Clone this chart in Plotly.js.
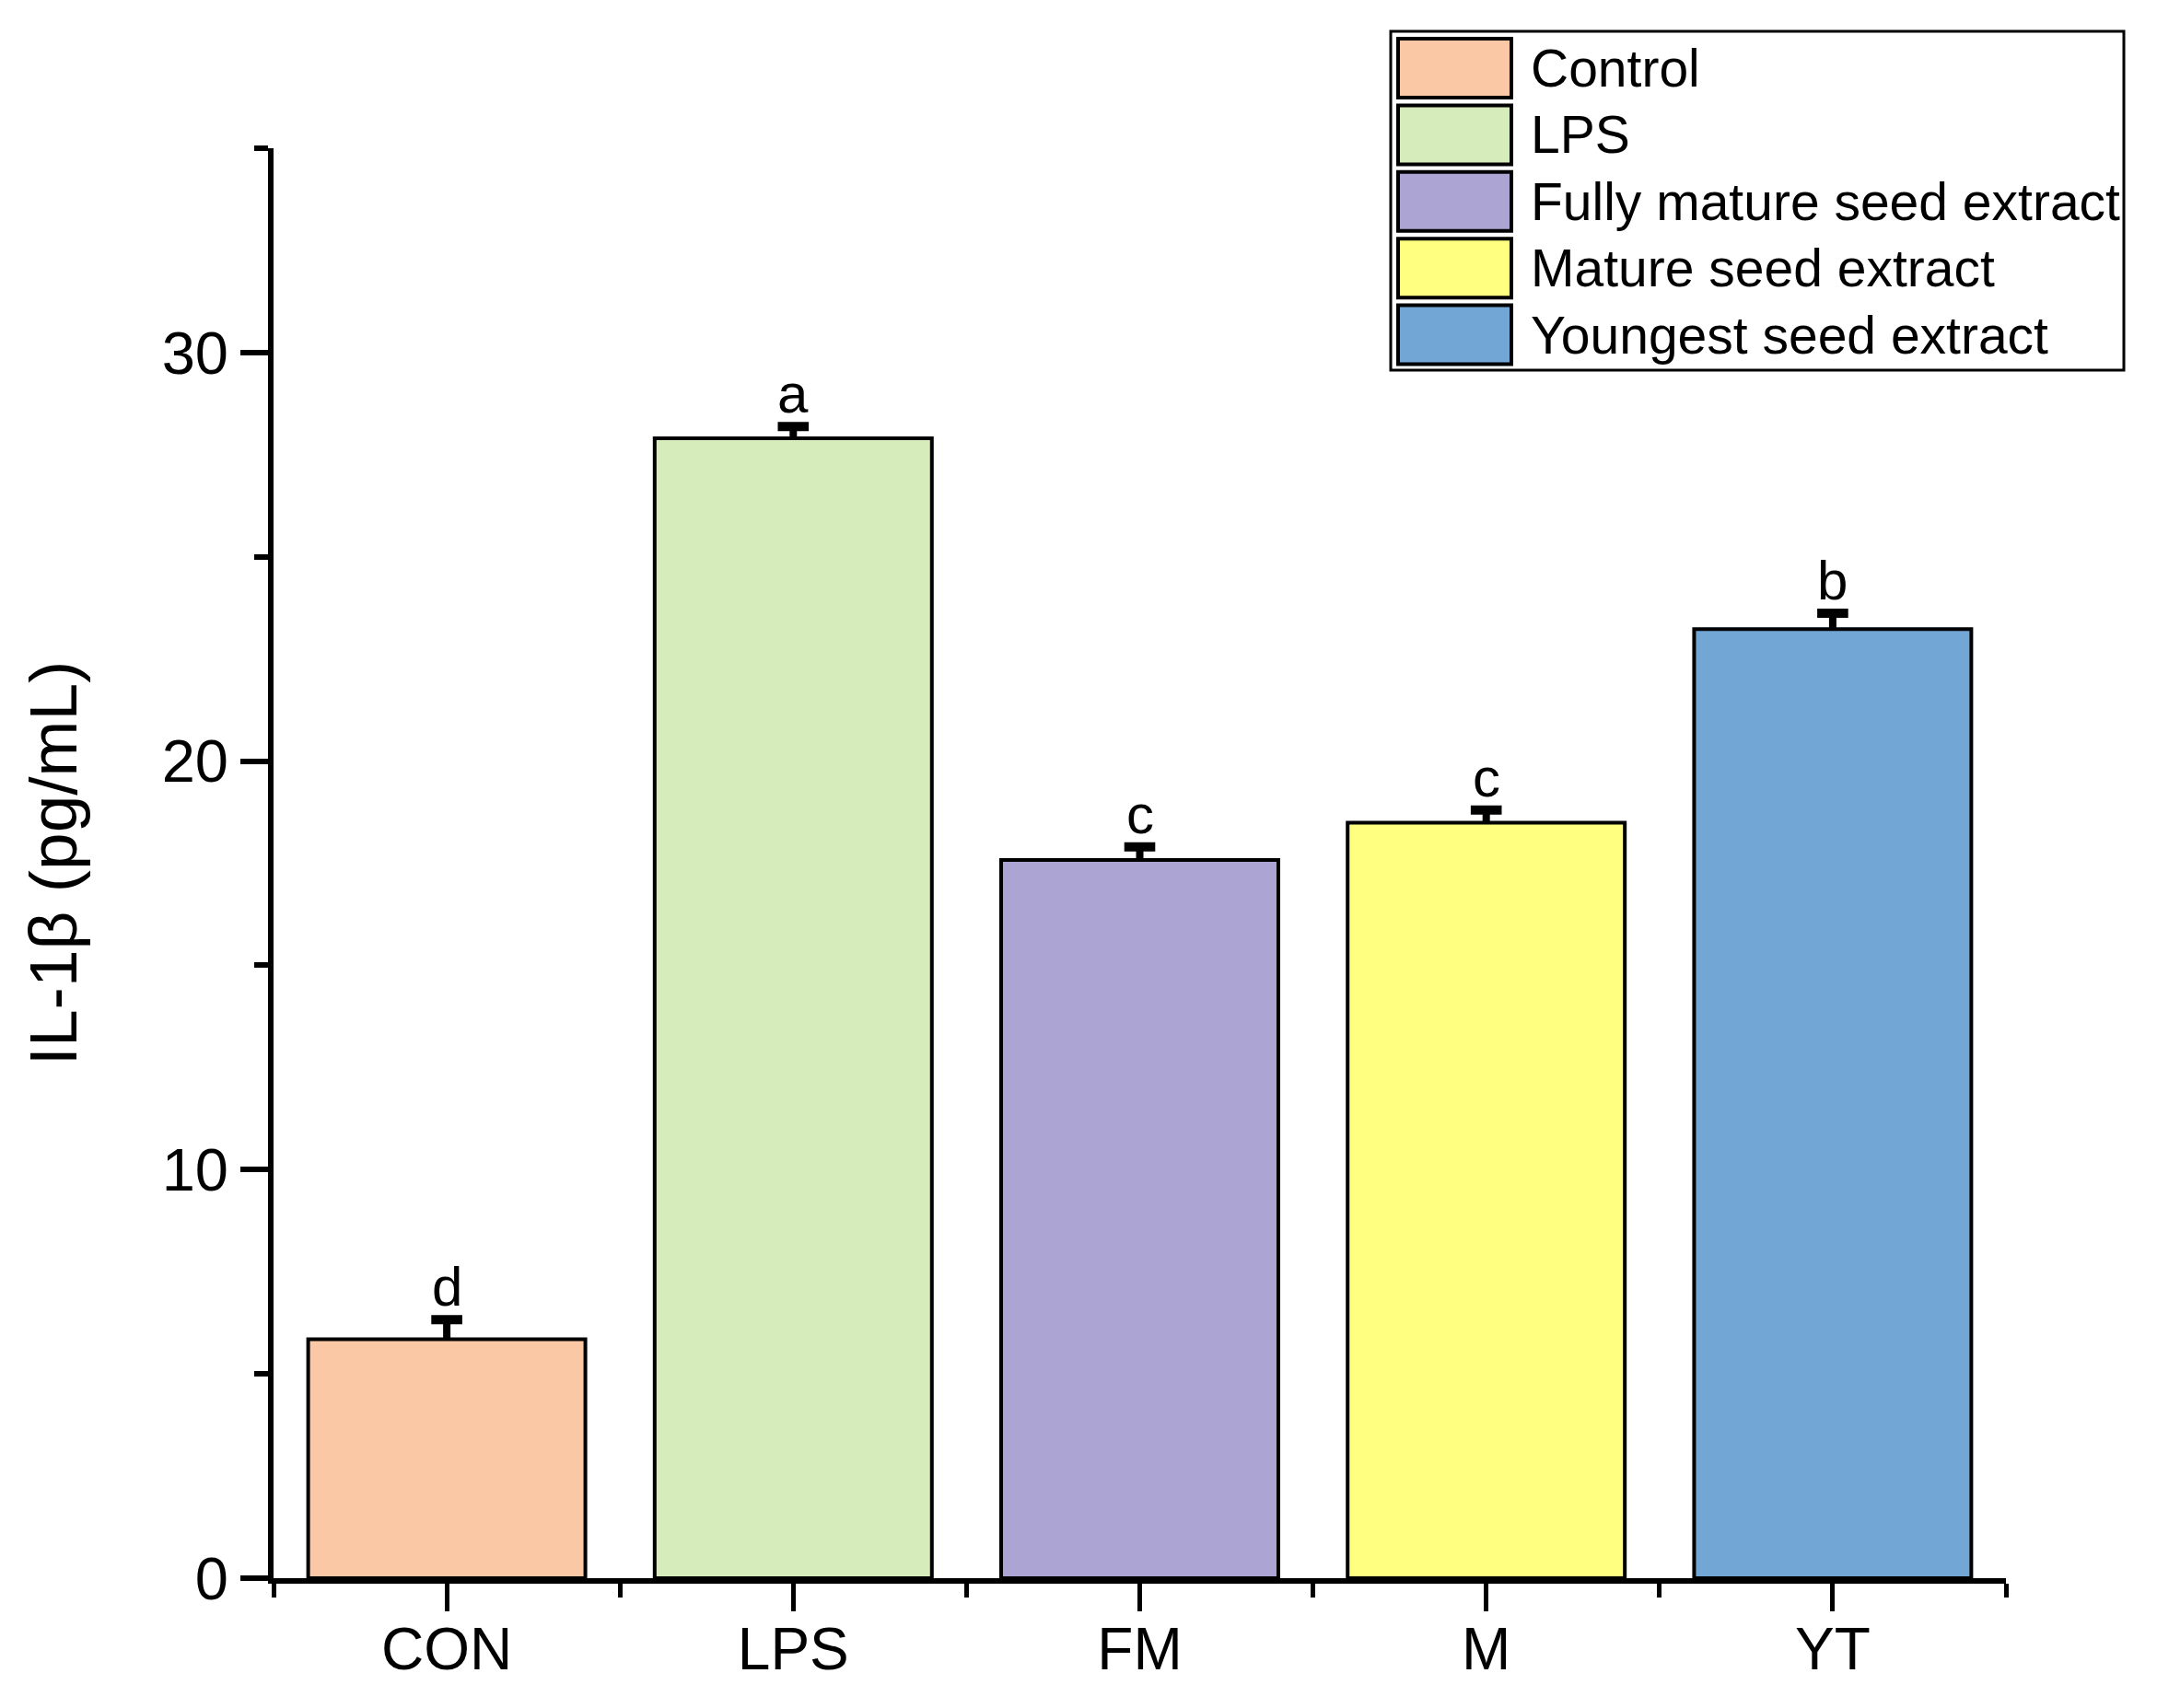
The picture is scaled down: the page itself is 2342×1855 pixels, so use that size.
<!DOCTYPE html>
<html>
<head>
<meta charset="utf-8">
<script src="https://cdn.plot.ly/plotly-3.0.1.min.js"></script>
<style>
  html, body { margin: 0; padding: 0; background: #fff; }
  #chart { width: 2342px; height: 1855px; }
</style>
</head>
<body>
<div id="chart"></div>
<script>
// data
const categories = ['CON', 'LPS', 'FM', 'M', 'YT'];
const groupNames = ['Control', 'LPS', 'Fully mature seed extract', 'Mature seed extract', 'Youngest seed extract'];
const values = [5.85, 27.9, 17.58, 18.49, 23.23];
const errors = [0.48, 0.29, 0.32, 0.31, 0.39];
const letters = ['d', 'a', 'c', 'c', 'b'];
const colors = ['#FAC8A4', '#D6EDBB', '#ACA5D4', '#FFFF80', '#72A6D4'];

const FONT = 'Liberation Sans, Arial, sans-serif';
const W = 2342, H = 1855;
const M = {l: 297, r: 164, t: 161, b: 141};
const plotW = W - M.l - M.r, plotH = H - M.t - M.b;
// pixel -> paper helpers for the hand-built legend
const px = x => (x - M.l) / plotW;
const py = y => (H - M.b - y) / plotH;

const xs = categories.map((_, i) => i);
const tops = values.map((v, i) => v + errors[i]);

const bars = {
  type: 'bar',
  x: xs,
  y: values,
  width: 0.8,
  marker: {color: colors, line: {color: '#000', width: 4}},
  // upper error only, no caps here (Origin-style cap drawn below)
  error_y: {
    type: 'data', symmetric: false,
    array: errors, arrayminus: errors.map(() => 0),
    color: '#000', thickness: 8, width: 0
  },
  hoverinfo: 'x+y',
  showlegend: false
};

// error bar caps
const caps = {
  type: 'scatter',
  mode: 'markers',
  x: xs,
  y: tops,
  marker: {symbol: 'line-ew', size: 24, color: '#000', line: {color: '#000', width: 10}},
  hoverinfo: 'skip',
  showlegend: false
};

const annotations = xs.map((x, i) => ({
  x: x, y: tops[i],
  xref: 'x', yref: 'y',
  text: letters[i],
  showarrow: false,
  yanchor: 'bottom',
  yshift: 0,
  font: {family: FONT, size: 60, color: '#000'}
}));

// legend box, swatches and labels
const shapes = [{
  type: 'rect', xref: 'paper', yref: 'paper',
  x0: px(1510), x1: px(2306), y0: py(34), y1: py(402),
  line: {color: '#000', width: 3}, fillcolor: 'rgba(0,0,0,0)'
}];
const rowPitch = 72.4, rowTop = 42, swH = 64;
groupNames.forEach((name, i) => {
  const top = rowTop + i * rowPitch;
  shapes.push({
    type: 'rect', xref: 'paper', yref: 'paper',
    x0: px(1518), x1: px(1641), y0: py(top), y1: py(top + swH),
    line: {color: '#000', width: 4}, fillcolor: colors[i]
  });
  annotations.push({
    x: px(1660), y: py(top + swH / 2),
    xref: 'paper', yref: 'paper',
    xanchor: 'left', yanchor: 'middle',
    text: name, showarrow: false,
    font: {family: FONT, size: 57, color: '#000'}
  });
});

const layout = {
  width: W, height: H,
  margin: M,
  paper_bgcolor: '#fff',
  plot_bgcolor: '#fff',
  font: {family: FONT, color: '#000'},
  xaxis: {
    range: [-0.5, 4.5],
    tickmode: 'array', tickvals: xs, ticktext: categories,
    ticks: 'outside', ticklen: 30, tickwidth: 5, tickcolor: '#000',
    ticklabelstandoff: -14,
    minor: {tickmode: 'linear', tick0: -0.5, dtick: 1, ticks: 'outside', ticklen: 15, tickwidth: 5, tickcolor: '#000'},
    showline: true, linecolor: '#000', linewidth: 6,
    showgrid: false, zeroline: false,
    tickfont: {family: FONT, size: 64, color: '#000'},
    fixedrange: true
  },
  yaxis: {
    range: [0, 35],
    tickmode: 'linear', tick0: 0, dtick: 10,
    ticks: 'outside', ticklen: 30, tickwidth: 6, tickcolor: '#000',
    ticklabelstandoff: 0,
    minor: {tickmode: 'linear', tick0: 5, dtick: 10, ticks: 'outside', ticklen: 15, tickwidth: 6, tickcolor: '#000'},
    showline: true, linecolor: '#000', linewidth: 6,
    showgrid: false, zeroline: false,
    tickfont: {family: FONT, size: 65, color: '#000'},
    title: {text: 'IL-1β (pg/mL)', font: {family: FONT, size: 73, color: '#000'}, standoff: 70},
    fixedrange: true
  },
  shapes: shapes,
  annotations: annotations
};

Plotly.newPlot('chart', [bars, caps], layout, {displayModeBar: false, staticPlot: true});
</script>
</body>
</html>
